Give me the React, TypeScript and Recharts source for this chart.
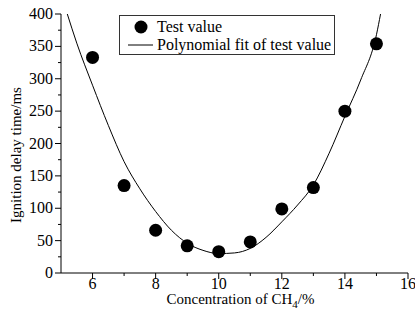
import React from 'react';
import { ComposedChart, Scatter, Line, XAxis, YAxis, Legend } from 'recharts';

const concentrations = [6, 7, 8, 9, 10, 11, 12, 13, 14, 15];
const delayTimes = [333, 135, 66, 42, 33, 48, 99, 132, 250, 354];

const fitX = [5.2, 5.5, 6, 6.5, 7, 7.5, 8, 8.5, 9, 9.5, 10, 10.5, 11, 11.5, 12, 12.5, 13, 13.5, 14, 14.5, 15, 15.13];
const fitY = [400, 355, 290, 228, 172, 130, 95, 66, 46, 35, 30, 31, 38, 55, 79, 105, 136, 185, 242, 298, 368, 400];

const xTicks = [6, 7, 8, 9, 10, 11, 12, 13, 14, 15, 16];
const yTicks = [0, 25, 50, 75, 100, 125, 150, 175, 200, 225, 250, 275, 300, 325, 350, 375, 400];

const points = concentrations.map((x, i) => ({ x, y: delayTimes[i] }));
const fit = fitX.map((x, i) => ({ x, y: fitY[i] }));

const FONT = '"Liberation Serif", "Times New Roman", serif';
const txt = (size: number) => ({ fontFamily: FONT, fontSize: size, fill: '#000' });

const YTick = (props: any) => {
  const { x, y, payload } = props;
  const major = payload.value % 50 === 0;
  return (
    <g>
      <line x1={x} x2={x - (major ? 6 : 3)} y1={y} y2={y} stroke="#000" strokeWidth={1} />
      {major && (
        <text x={x - 8} y={y + 5} textAnchor="end" style={txt(16)}>
          {payload.value}
        </text>
      )}
    </g>
  );
};

const XTick = (props: any) => {
  const { x, y, payload } = props;
  const major = payload.value % 2 === 0;
  return (
    <g>
      <line x1={x} x2={x} y1={y} y2={y + (major ? 6 : 3)} stroke="#000" strokeWidth={1} />
      {major && (
        <text x={x} y={y + 16} textAnchor="middle" style={txt(16)}>
          {payload.value}
        </text>
      )}
    </g>
  );
};

const LegendBox = () => (
  <svg width={217} height={41} style={{ display: 'block' }}>
    <rect x={0.5} y={0.5} width={215} height={39} fill="#fff" stroke="#333" strokeWidth={1} />
    <circle cx={22} cy={12} r={6.5} fill="#000" />
    <text x={38} y={17} style={txt(16)}>Test value</text>
    <line x1={9} x2={34} y1={30} y2={30} stroke="#000" strokeWidth={1} />
    <text x={38} y={35} style={txt(16)}>Polynomial fit of test value</text>
  </svg>
);

export default function App() {
  return (
    <div style={{ position: 'absolute', left: 0, top: 0, background: '#fff' }}>
      <ComposedChart width={415} height={317} margin={{ top: 14, right: 7, left: 0, bottom: 14 }}>
        <XAxis
          type="number"
          dataKey="x"
          domain={[5, 16]}
          ticks={xTicks}
          interval={0}
          tickSize={0}
          tickMargin={0}
          tickLine={false}
          tick={<XTick />}
          height={30}
          stroke="#000"
          allowDataOverflow
          label={{
            content: (p: any) => {
              const vb = p.viewBox;
              return (
                <text x={vb.x + vb.width / 2 + 6} y={304} textAnchor="middle" style={txt(15)}>
                  Concentration of CH
                  <tspan style={{ fontSize: 11 }} dy={4}>4</tspan>
                  <tspan dy={-4}>/%</tspan>
                </text>
              );
            },
          }}
        />
        <YAxis
          type="number"
          dataKey="y"
          domain={[0, 400]}
          ticks={yTicks}
          interval={0}
          width={61}
          tickSize={0}
          tickMargin={0}
          tickLine={false}
          tick={<YTick />}
          stroke="#000"
          allowDataOverflow
          label={{
            content: () => (
              <text
                x={0}
                y={0}
                transform="translate(21,155) rotate(-90)"
                textAnchor="middle"
                style={txt(15)}
              >
                Ignition delay time/ms
              </text>
            ),
          }}
        />
        <Legend
          layout="vertical"
          verticalAlign="middle"
          align="center"
          wrapperStyle={{ left: 119, top: 15, width: 217, height: 41 }}
          content={() => <LegendBox />}
        />
        <Line
          data={fit}
          dataKey="y"
          type="monotone"
          stroke="#000"
          strokeWidth={1}
          dot={false}
          activeDot={false}
          isAnimationActive={false}
          legendType="line"
        />
        <Scatter
          data={points}
          dataKey="y"
          fill="#000"
          isAnimationActive={false}
          shape={(p: any) => <circle cx={p.cx} cy={p.cy} r={6.5} fill="#000" />}
        />
      </ComposedChart>
    </div>
  );
}
